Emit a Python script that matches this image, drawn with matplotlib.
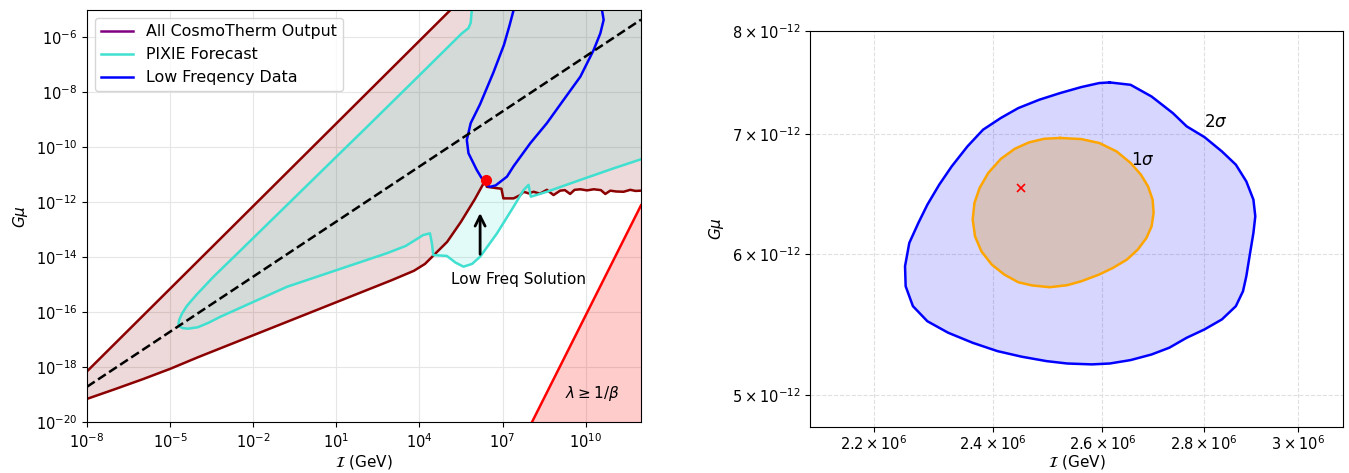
#!/usr/bin/env python3
import numpy as np
import matplotlib
matplotlib.use("Agg")
import matplotlib.pyplot as plt
from matplotlib.ticker import NullLocator

# ============================================================
# DATA (left panel values are log10 of I [GeV] and G mu)
# ============================================================

# upper edge of the CosmoTherm region (runs off the top)
cosmo_upper_logI = [-8.0, 7.0]
cosmo_upper_logG = [-18.15, -3.15]

# lower edge of the CosmoTherm region
cosmo_lower_logI = [-8.0, -7.0, -6.0, -5.0, -4.0, -2.0, 0.0, 2.0, 3.0, 3.8, 4.2, 4.5,
                    5.0, 5.5, 6.0, 6.39, 6.43, 6.80, 6.96, 7.03, 7.40, 7.64, 7.76,
                    7.95, 8.12, 8.35, 8.60, 8.84, 9.08, 9.25, 9.44, 9.60, 9.81, 10.05,
                    10.29, 10.55, 10.71, 10.89, 11.10, 11.37, 11.61, 11.80, 12.0]
cosmo_lower_logG = [-19.15, -18.80, -18.44, -18.06, -17.64, -16.84, -16.04, -15.24,
                    -14.84, -14.50, -14.25, -13.95, -13.45, -12.72, -11.90, -11.19,
                    -11.45, -11.50, -11.52, -11.87, -11.87, -11.75, -11.63, -11.69,
                    -11.63, -11.70, -11.56, -11.75, -11.59, -11.57, -11.71, -11.56,
                    -11.54, -11.58, -11.54, -11.57, -11.71, -11.59, -11.62, -11.63,
                    -11.56, -11.60, -11.59]

# PIXIE forecast contour
pixie_logI = [5.89, 5.89, 5.85, 5.77, 5.53, 4.0, 1.99, 1.02, -0.18, -1.39, -2.59, -3.43,
              -4.04, -4.40, -4.58, -4.67, -4.70, -4.66, -4.55, -4.35, -4.00, -3.60,
              -3.19, -0.78, 2.83, 3.5, 4.14, 4.38, 4.45, 4.50, 4.99, 5.30, 5.59, 5.90,
              6.19, 6.80, 7.40, 7.76, 7.94, 8.02, 8.60, 9.81, 11.01, 12.0]
pixie_logG = [-4.0, -5.03, -5.50, -5.69, -5.88, -7.40, -9.39, -10.34, -11.52, -12.71,
              -13.89, -14.71, -15.36, -15.78, -16.07, -16.28, -16.42, -16.52, -16.58,
              -16.60, -16.55, -16.38, -16.17, -15.08, -13.86, -13.60, -13.20, -13.14,
              -13.50, -13.93, -13.96, -14.20, -14.35, -14.25, -13.99, -13.14, -12.17,
              -11.57, -11.38, -11.81, -11.63, -11.20, -10.78, -10.45]

# low frequency data contour
lowfreq_logI = [7.40, 7.25, 7.05, 6.67, 6.19, 5.85, 5.71, 5.77, 6.07, 6.25, 6.45,
                6.55, 6.75, 7.16, 7.40, 8.0, 8.60, 9.20, 9.81, 10.29, 10.53, 10.65,
                10.59]
lowfreq_logG = [-5.03, -5.60, -6.30, -7.30, -8.45, -9.14, -9.75, -10.23, -10.84,
                -11.14, -11.40, -11.45, -11.40, -11.08, -10.70, -9.87, -9.14, -8.30,
                -7.45, -6.48, -5.88, -5.39, -5.03]

# dashed reference line and lambda >= 1/beta boundary
dash_logI = [-8.0, 12.0]
dash_logG = [-18.71, -5.38]
lam_logI = [7.81, 12.0]
lam_logG = [-20.5, -12.12]

# best fit point (shared by both panels)
best_I = 2.45e6
best_G = 6.53e-12

# right panel: contours in units of 1e6 GeV and 1e-12
sig2_I = [2.614, 2.654, 2.695, 2.737, 2.765, 2.801, 2.837, 2.866, 2.888, 2.903, 2.907,
          2.903, 2.896, 2.888, 2.881, 2.866, 2.837, 2.801, 2.765, 2.730, 2.695, 2.654,
          2.614, 2.580, 2.534, 2.496, 2.451, 2.408, 2.365, 2.323, 2.288, 2.264, 2.252,
          2.251, 2.258, 2.273, 2.288, 2.308, 2.329, 2.356, 2.383, 2.414, 2.445, 2.483,
          2.521, 2.560, 2.594]
sig2_G = [7.486, 7.463, 7.351, 7.196, 7.073, 6.976, 6.848, 6.732, 6.588, 6.435, 6.298,
          6.164, 6.007, 5.829, 5.717, 5.608, 5.513, 5.442, 5.384, 5.315, 5.269, 5.231,
          5.208, 5.202, 5.208, 5.224, 5.254, 5.292, 5.349, 5.419, 5.500, 5.608, 5.754,
          5.905, 6.085, 6.244, 6.393, 6.561, 6.717, 6.893, 7.043, 7.150, 7.242, 7.321,
          7.384, 7.441, 7.480]
sig1_I = [2.521, 2.560, 2.594, 2.627, 2.654, 2.674, 2.688, 2.697, 2.699, 2.695, 2.685,
          2.668, 2.647, 2.620, 2.594, 2.560, 2.534, 2.502, 2.470, 2.445, 2.420, 2.398,
          2.380, 2.369, 2.365, 2.368, 2.377, 2.392, 2.414, 2.439, 2.464, 2.492]
sig1_G = [6.968, 6.958, 6.923, 6.848, 6.747, 6.646, 6.546, 6.435, 6.325, 6.217, 6.125,
          6.033, 5.956, 5.892, 5.842, 5.791, 5.762, 5.747, 5.760, 5.784, 5.842, 5.918,
          6.020, 6.137, 6.271, 6.407, 6.533, 6.660, 6.782, 6.872, 6.928, 6.961]

right_xticks = [2.2e6, 2.4e6, 2.6e6, 2.8e6, 3.0e6]
right_xticklabels = [r"$2.2\times10^{6}$", r"$2.4\times10^{6}$", r"$2.6\times10^{6}$",
                     r"$2.8\times10^{6}$", r"$3\times10^{6}$"]
right_yticks = [5e-12, 6e-12, 7e-12, 8e-12]
right_yticklabels = [r"$5\times10^{-12}$", r"$6\times10^{-12}$", r"$7\times10^{-12}$",
                     r"$8\times10^{-12}$"]


def p10(a):
    return 10.0 ** np.asarray(a)


# ============================================================
# PLOTTING
# ============================================================

fig = plt.figure(figsize=(13.49, 4.73), dpi=100)
ax1 = fig.add_axes([0.0645, 0.1072, 0.4107, 0.8717])
ax2 = fig.add_axes([0.6004, 0.0979, 0.3954, 0.8366])

# ---- Left panel ----
cosmo_poly_x = np.concatenate([p10(cosmo_lower_logI), [1e12, 1e12], p10(cosmo_upper_logI[::-1])])
cosmo_poly_y = np.concatenate([p10(cosmo_lower_logG), [p10(cosmo_lower_logG[-1]), 1e-3],
                               p10(cosmo_upper_logG[::-1])])
ax1.fill(cosmo_poly_x, cosmo_poly_y, color="darkred", alpha=0.15, lw=0)
ax1.plot(p10(cosmo_upper_logI), p10(cosmo_upper_logG), color="darkred", lw=1.8)
ax1.plot(p10(cosmo_lower_logI), p10(cosmo_lower_logG), color="darkred", lw=1.8)

pixie_poly_x = np.concatenate([p10(pixie_logI), [1e12, p10(pixie_logI[0])]])
pixie_poly_y = np.concatenate([p10(pixie_logG), [1e-3, 1e-3]])
ax1.fill(pixie_poly_x, pixie_poly_y, color="turquoise", alpha=0.15, lw=0)
ax1.plot(p10(pixie_logI), p10(pixie_logG), color="turquoise", lw=1.8)

ax1.plot(p10(lowfreq_logI), p10(lowfreq_logG), color="blue", lw=1.8)
ax1.plot(p10(dash_logI), p10(dash_logG), color="black", ls="--", lw=1.8)

ax1.fill_between(p10(lam_logI), p10(lam_logG), 1e-21, color="red", alpha=0.2, lw=0)
ax1.plot(p10(lam_logI), p10(lam_logG), color="red", lw=1.8)

ax1.plot(best_I, best_G, "o", color="red", ms=7, zorder=5)
ax1.annotate("", xy=(1.55e6, 10**-12.3), xytext=(1.55e6, 10**-14.0),
             arrowprops=dict(arrowstyle="->", lw=2, color="black", mutation_scale=18))
ax1.text(10**7.57, 10**-14.83, "Low Freq Solution", ha="center", va="center", fontsize=11)
ax1.text(10**10.23, 10**-18.97, r"$\lambda \geq 1/\beta$", ha="center", va="center", fontsize=11)

ax1.set_xscale("log")
ax1.set_yscale("log")
ax1.set_xlim(1e-8, 1e12)
ax1.set_ylim(1e-20, 10**-5.03)
ax1.set_xticks([10.0 ** k for k in range(-8, 11, 3)])
ax1.set_yticks([10.0 ** k for k in range(-20, -5, 2)])
ax1.xaxis.set_minor_locator(NullLocator())
ax1.yaxis.set_minor_locator(NullLocator())
ax1.tick_params(labelsize=10.5)
ax1.grid(True, color="0.9", lw=0.8)
ax1.set_axisbelow(True)
ax1.set_xlabel(r"$\mathcal{I}$ (GeV)", fontsize=11, labelpad=2)
ax1.set_ylabel(r"$G\mu$", fontsize=11)

handles = [plt.Line2D([], [], color="purple", lw=1.8),
           plt.Line2D([], [], color="turquoise", lw=1.8),
           plt.Line2D([], [], color="blue", lw=1.8)]
ax1.legend(handles, ["All CosmoTherm Output", "PIXIE Forecast", "Low Freqency Data"],
           loc="upper left", fontsize=11.4)

# ---- Right panel ----
s2x = np.array(sig2_I + sig2_I[:1]) * 1e6
s2y = np.array(sig2_G + sig2_G[:1]) * 1e-12
s1x = np.array(sig1_I + sig1_I[:1]) * 1e6
s1y = np.array(sig1_G + sig1_G[:1]) * 1e-12
ax2.fill(s2x, s2y, color="blue", alpha=0.16, lw=0)
ax2.fill(s1x, s1y, color="#d6c1bc", lw=0)
ax2.plot(s2x, s2y, color="blue", lw=1.8)
ax2.plot(s1x, s1y, color="orange", lw=1.8)
ax2.plot(best_I, best_G, "x", color="red", ms=6, mew=1.2)
ax2.text(2.8e6, 7.11e-12, r"$2\sigma$", fontsize=12, va="center")
ax2.text(2.655e6, 6.77e-12, r"$1\sigma$", fontsize=12, va="center")

ax2.set_xscale("log")
ax2.set_yscale("log")
ax2.set_xlim(2.1e6, 3.1e6)
ax2.set_ylim(4.8e-12, 8e-12)
ax2.xaxis.set_minor_locator(NullLocator())
ax2.yaxis.set_minor_locator(NullLocator())
ax2.set_xticks(right_xticks)
ax2.set_xticklabels(right_xticklabels)
ax2.set_yticks(right_yticks)
ax2.set_yticklabels(right_yticklabels)
ax2.tick_params(labelsize=10.5)
ax2.tick_params(axis="x", pad=2)
ax2.grid(True, ls="--", color="0.88", lw=0.8)
ax2.set_axisbelow(True)
ax2.set_xlabel(r"$\mathcal{I}$ (GeV)", fontsize=11, labelpad=0)
ax2.set_ylabel(r"$G\mu$", fontsize=11)

fig.savefig("out.png", dpi=100)
